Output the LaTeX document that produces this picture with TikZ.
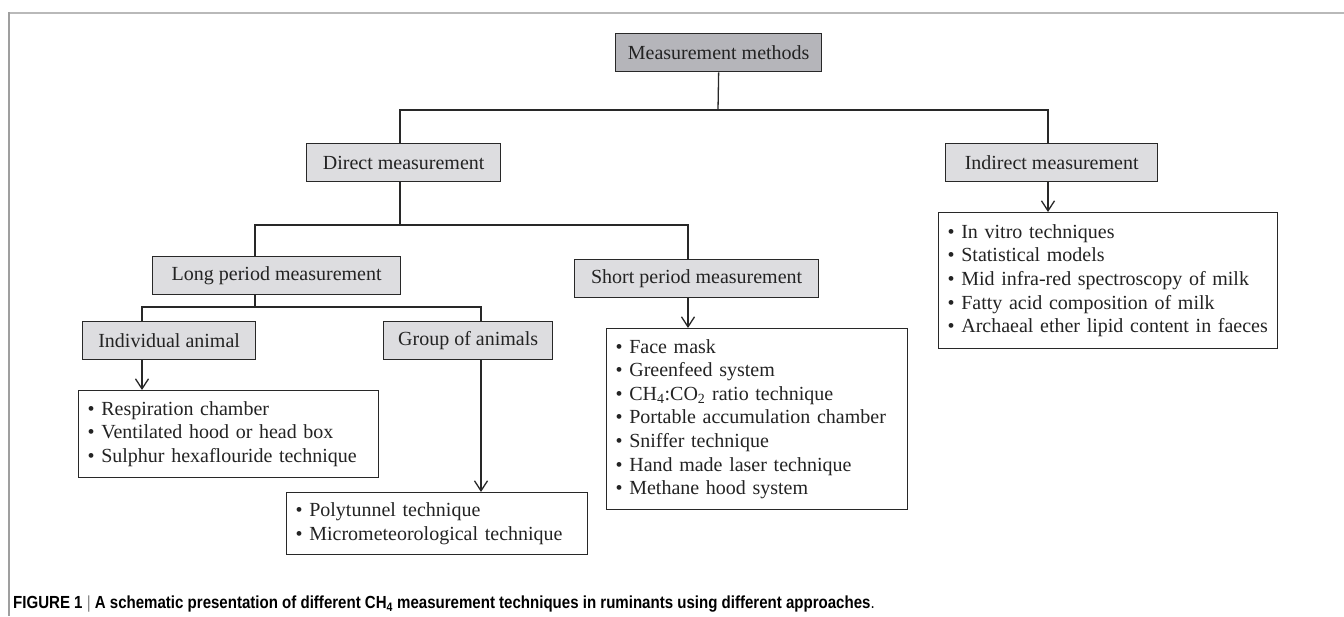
\documentclass[tikz,border=0pt]{standalone}
\usepackage{fontspec}
\setmainfont{Liberation Serif}
\newfontfamily\capfont{Liberation Sans}
\usetikzlibrary{arrows.meta}
\definecolor{boxgray}{RGB}{221,221,224}
\definecolor{topgray}{RGB}{181,181,186}
\definecolor{linecol}{RGB}{40,40,40}
\definecolor{txtcol}{RGB}{35,35,35}
\begin{document}
\begin{tikzpicture}[x=1pt,y=-1pt,
  every node/.style={font=\fontsize{20}{23.6}\selectfont, text=txtcol},
  catbox/.style={draw=linecol, line width=1.3pt, fill=boxgray, inner sep=0pt, anchor=north west},
  listbox/.style={draw=linecol, line width=1.3pt, fill=white, inner xsep=9pt, inner ysep=0pt, anchor=north west, align=left},
  conn/.style={draw=linecol, line width=1.3pt},
  arr/.style={conn, -{Straight Barb[length=10pt,width=13pt,line width=1.3pt]}},
]
\useasboundingbox (0,0) rectangle (1344,616);
% frame
\draw[gray!55, line width=2pt] (9,13) -- (1344,13);
\draw[gray!75, line width=1.2pt] (9,12) -- (9,616);

% category boxes
\node[catbox, fill=topgray, minimum width=206pt, minimum height=38pt] (mm) at (615,33) {Measurement methods};
\node[catbox, minimum width=194pt, minimum height=38pt] (dir) at (306,143) {Direct measurement};
\node[catbox, minimum width=212pt, minimum height=38pt] (ind) at (945,143) {Indirect measurement};
\node[catbox, minimum width=248pt, minimum height=38pt] (lng) at (152,256) {Long period measurement};
\node[catbox, minimum width=244pt, minimum height=38pt] (sht) at (574,259) {Short period measurement};
\node[catbox, minimum width=173pt, minimum height=38pt] (indv) at (82,321) {Individual animal};
\node[catbox, minimum width=169pt, minimum height=38pt] (grp) at (383,321) {Group of animals};

% list boxes
\node[listbox, text width=321pt, minimum height=136pt] (indl) at (938,212)
  {\textbullet{} In vitro techniques\\
   \textbullet{} Statistical models\\
   \textbullet{} Mid infra-red spectroscopy of milk\\
   \textbullet{} Fatty acid composition of milk\\
   \textbullet{} Archaeal ether lipid content in faeces};
\node[listbox, text width=283pt, minimum height=181pt] (shl) at (606,328)
  {\textbullet{} Face mask\\
   \textbullet{} Greenfeed system\\
   \textbullet{} CH\textsubscript{4}:CO\textsubscript{2} ratio technique\\
   \textbullet{} Portable accumulation chamber\\
   \textbullet{} Sniffer technique\\
   \textbullet{} Hand made laser technique\\
   \textbullet{} Methane hood system};
\node[listbox, text width=282pt, minimum height=87pt] (rsp) at (78,390)
  {\textbullet{} Respiration chamber\\
   \textbullet{} Ventilated hood or head box\\
   \textbullet{} Sulphur hexaflouride technique};
\node[listbox, text width=283pt, minimum height=62pt] (ply) at (286,492)
  {\textbullet{} Polytunnel technique\\
   \textbullet{} Micrometeorological technique};

% junction coordinates
\coordinate (j0) at (718,110);
\coordinate (j1) at (400,225);
\coordinate (j2) at (255,307);
\coordinate (xs) at (688,0);
\coordinate (xi) at (142,0);
\coordinate (xg) at (481,0);
\coordinate (xd) at (400,0);
\coordinate (xn) at (1048,0);

% connectors
\draw[conn] (mm.south) -- (j0);
\draw[conn] (dir.north -| xd) |- (j0) -| (ind.north -| xn);
\draw[conn] (dir.south -| xd) -- (j1);
\draw[conn] (lng.north -| j2) |- (j1) -| (sht.north -| xs);
\draw[conn] (lng.south -| j2) -- (j2);
\draw[conn] (indv.north -| xi) |- (j2) -| (grp.north -| xg);

% arrows
\draw[arr] (ind.south -| xn) -- (indl.north -| xn);
\draw[arr] (sht.south -| xs) -- (shl.north -| xs);
\draw[arr] (indv.south -| xi) -- (rsp.north -| xi);
\draw[arr] (grp.south -| xg) -- (ply.north -| xg);

% caption
\node[anchor=west, inner sep=0pt, font=\capfont\bfseries\fontsize{17.5}{20}\selectfont, text=black] (cap) at (13,604)
  {\scalebox{0.86}[1]{FIGURE 1 {\color{gray}\mdseries|} A schematic presentation of different CH\textsubscript{4} measurement techniques in ruminants using different approaches{\mdseries.}}};
\end{tikzpicture}
\end{document}
